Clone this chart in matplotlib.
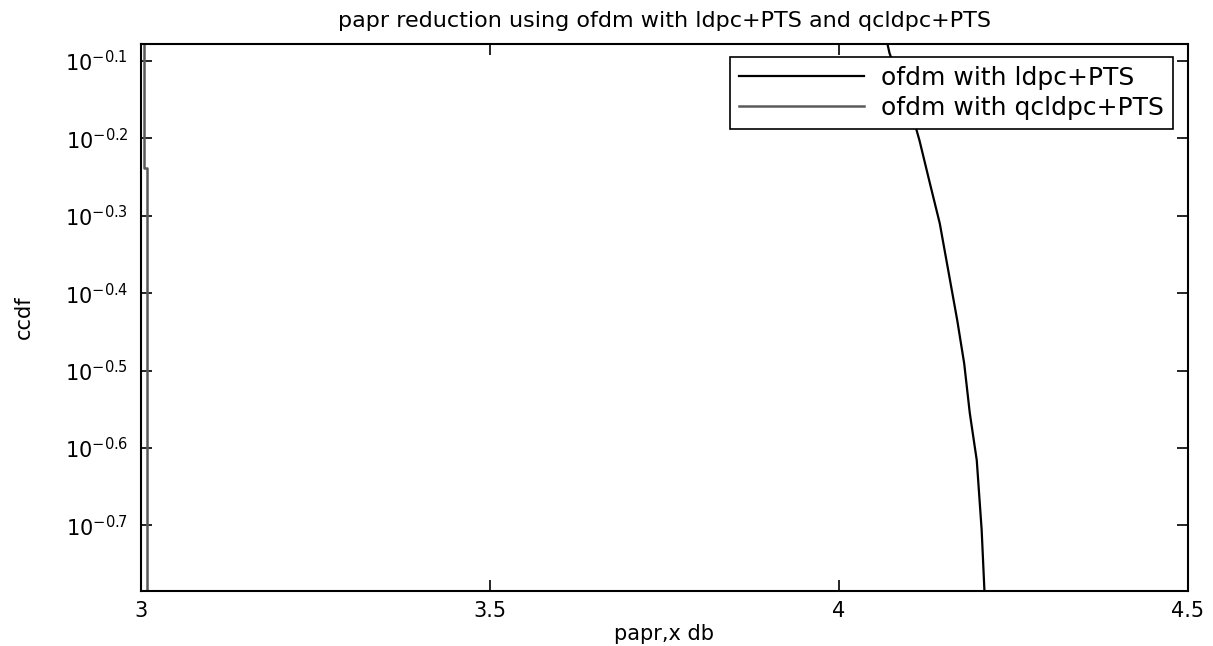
import matplotlib
matplotlib.use('Agg')
import matplotlib.pyplot as plt

# ccdf curves
papr_ldpc = [4.070, 4.073, 4.105, 4.116, 4.130, 4.145, 4.159, 4.170, 4.180, 4.188, 4.198, 4.205, 4.209, 4.212]
ccdf_ldpc = [0.8356, 0.8128, 0.6792, 0.6266, 0.5559, 0.4898, 0.4169, 0.3673, 0.3228, 0.2786, 0.2421, 0.1968, 0.1641, 0.1600]

papr_qcldpc = [3.005, 3.005, 3.009, 3.009]
ccdf_qcldpc = [0.90, 0.577, 0.577, 0.15]

ytick_exp = [-0.7, -0.6, -0.5, -0.4, -0.3, -0.2, -0.1]
xticks = [3, 3.5, 4, 4.5]
xtick_labels = ['3', '3.5', '4', '4.5']

plt.rcParams['font.family'] = ['DejaVu Sans']
plt.rcParams['mathtext.fontset'] = 'dejavusans'

fig = plt.figure(figsize=(12.13, 6.46), dpi=100)
ax = fig.add_axes([0.116, 0.085, 0.863, 0.847])

ax.plot(papr_ldpc, ccdf_ldpc, color='black', lw=1.6, label='ofdm with ldpc+PTS')
ax.plot(papr_qcldpc, ccdf_qcldpc, color='#5a5a5a', lw=1.8, label='ofdm with qcldpc+PTS')

ax.set_yscale('log')
ax.set_xlim(3, 4.5)
ax.set_ylim(10 ** -0.785, 10 ** -0.078)

ax.set_yticks([10 ** e for e in ytick_exp])
ax.set_yticks([], minor=True)
ax.set_yticklabels([r'$\mathregular{10^{%.1f}}$' % e for e in ytick_exp])
ax.set_xticks(xticks)
ax.set_xticklabels(xtick_labels)

ax.tick_params(direction='in', length=8, width=1.2, top=True, right=True,
               labelsize=15)
ax.tick_params(axis='x', pad=7)
ax.tick_params(axis='y', pad=9)
for s in ax.spines.values():
    s.set_linewidth(1.5)

ax.set_title('papr reduction using ofdm with ldpc+PTS and qcldpc+PTS', fontsize=16, pad=12)
ax.set_xlabel('papr,x db', fontsize=15, labelpad=2)
ax.set_ylabel('ccdf', fontsize=15, labelpad=22)

leg = ax.legend(loc='upper right', fontsize=18, frameon=True, fancybox=False,
                edgecolor='black', framealpha=1, borderpad=0.35, handlelength=5.0,
                handletextpad=0.7, labelspacing=0.25, borderaxespad=0,
                bbox_to_anchor=(0.986, 0.976))
leg.get_frame().set_linewidth(1.2)

fig.savefig('out.png', dpi=100)
